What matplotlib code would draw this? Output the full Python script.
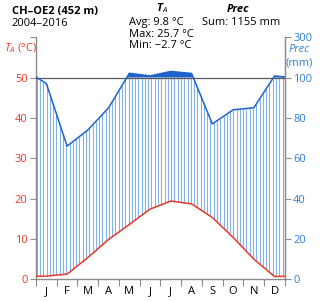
import matplotlib
matplotlib.use("Agg")
import matplotlib.pyplot as plt
import numpy as np

# --- Data ---
months = ["J", "F", "M", "A", "M", "J", "J", "A", "S", "O", "N", "D"]
temp = [0.8, 1.3, 5.4, 9.9, 13.6, 17.4, 19.4, 18.7, 15.3, 10.4, 5.0, 0.7]
prec = [97, 66, 74, 85, 121, 108, 130, 120, 77, 84, 85, 108]
temp_ticks = [0, 10, 20, 30, 40, 50]
prec_ticks = [0, 20, 40, 60, 80, 100, 300]

RED = "#e8392b"
BLUE = "#1e63cc"
LBLUE = "#80b2ec"
TBLUE = "#2f7fd8"
GREY = "#8c8c8c"
FS = 8
FONT = "Open Sans"

plt.rcParams["font.family"] = [FONT, "DejaVu Sans"]
plt.rcParams["mathtext.fontset"] = "custom"
plt.rcParams["mathtext.it"] = FONT + ":italic"
plt.rcParams["mathtext.bf"] = FONT + ":bold:italic"
plt.rcParams["mathtext.rm"] = FONT


def prec_to_t(p):
    # Walter-Lieth scale: 20 mm = 10 degC, compressed 1:10 above 100 mm
    p = np.asarray(p, dtype=float)
    return np.where(p <= 100, p / 2.0, 50 + (p - 100) / 20.0)


# knots at month midpoints, edges closed with Dec/Jan mean
xk = np.concatenate([[0], np.arange(12) + 0.5, [12]])
tk = np.concatenate([[(temp[-1] + temp[0]) / 2], temp, [(temp[-1] + temp[0]) / 2]])
pk_mm = np.concatenate([[(prec[-1] + prec[0]) / 2], prec, [(prec[-1] + prec[0]) / 2]])
pk = prec_to_t(pk_mm)

fig = plt.figure(figsize=(3.2, 3.02), dpi=100)
ax = fig.add_axes([0.1125, 0.075, 0.778, 0.802])

# hatching of the humid period
xh = np.linspace(0, 12, 77)[:-1] + 0.04
ph = np.interp(xh, xk, pk)
th = np.interp(xh, xk, tk)
ax.vlines(xh, th, np.minimum(ph, 50), color=LBLUE, lw=0.8, zorder=1)

# solid fill above 100 mm
xf = np.linspace(0, 12, 600)
pf = np.interp(xf, xk, pk)
ax.fill_between(xf, 50, pf, where=pf > 50, color=BLUE, lw=0, zorder=2)

ax.axhline(50, color="#5a5a5a", lw=0.9, zorder=3)
ax.plot(xk, pk, color=BLUE, lw=1.1, zorder=4)
ax.plot(xk, tk, color=RED, lw=1.1, zorder=5)

ax.set_xlim(0, 12)
ax.set_ylim(0, 60)

ax.spines["top"].set_visible(False)
for s in ["left", "right", "bottom"]:
    ax.spines[s].set_color(GREY)
    ax.spines[s].set_linewidth(1.0)

ax.set_xticks(np.arange(13))
ax.set_xticklabels([])
ax.set_xticks(np.arange(12) + 0.5, minor=True)
ax.set_xticklabels(months, minor=True, fontsize=FS)
ax.tick_params(axis="x", which="major", length=5, color=GREY, direction="out")
ax.tick_params(axis="x", which="minor", length=0, pad=5)

ax.set_yticks(temp_ticks + [60])
ax.set_yticklabels([str(v) for v in temp_ticks] + [""], color=RED, fontsize=FS)
ax.tick_params(axis="y", length=4, color=GREY, direction="out", pad=2)

ax2 = ax.twinx()
ax2.set_ylim(0, 60)
ax2.set_yticks(prec_to_t(prec_ticks))
ax2.set_yticklabels([str(v) for v in prec_ticks], color=TBLUE, fontsize=FS)
ax2.tick_params(axis="y", length=4, color=GREY, direction="out", pad=2)
for s in ["top", "left", "bottom"]:
    ax2.spines[s].set_visible(False)
ax2.spines["right"].set_color(GREY)

# axis titles
fig.text(0.012, 0.841, "$\\mathit{T}_{\\mathit{A}}$ (°C)", color=RED, fontsize=FS, va="center")
fig.text(0.935, 0.836, "Prec", color=TBLUE, fontsize=FS, style="italic", ha="center", va="center")
fig.text(0.935, 0.792, "(mm)", color=TBLUE, fontsize=FS, ha="center", va="center")

# header
fig.text(0.036, 0.962, "CH–OE2 (452 m)", fontsize=FS, fontweight="bold", va="center")
fig.text(0.036, 0.922, "2004–2016", fontsize=FS, va="center")

fig.text(0.505, 0.972, "$\\mathbf{T}_{\\mathit{A}}$", fontsize=FS, ha="center", va="center")
fig.text(0.403, 0.927, "Avg: 9.8 °C", fontsize=FS, va="center")
fig.text(0.403, 0.887, "Max: 25.7 °C", fontsize=FS, va="center")
fig.text(0.403, 0.848, "Min: −2.7 °C", fontsize=FS, va="center")

fig.text(0.745, 0.967, "Prec", fontsize=FS, fontweight="bold", style="italic", ha="center", va="center")
fig.text(0.752, 0.925, "Sum: 1155 mm", fontsize=FS, ha="center", va="center")

fig.savefig("out.png", dpi=100, facecolor="white")
